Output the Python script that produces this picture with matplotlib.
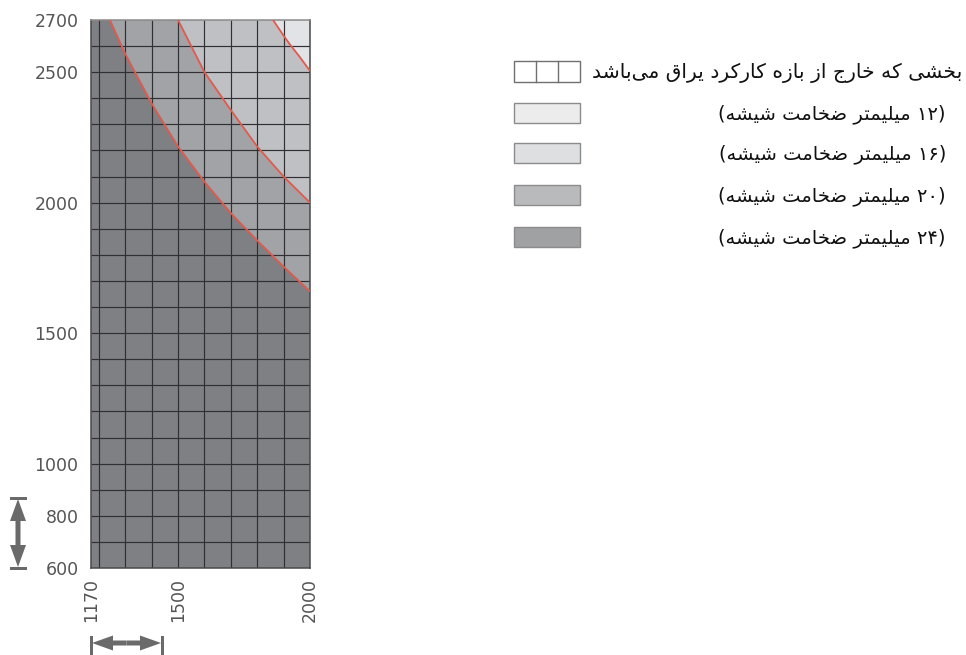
import matplotlib
matplotlib.use("Agg")
import matplotlib.pyplot as plt
from matplotlib.patches import Rectangle, FancyArrow
from matplotlib.transforms import IdentityTransform
from matplotlib import font_manager, ft2font

# ---------------- data ----------------
x_range = [1170, 2000]
y_range = [600, 2700]
x_ticks = [1170, 1500, 2000]
y_ticks = [600, 800, 1000, 1500, 2000, 2500, 2700]
grid_x = [1200, 1300, 1400, 1500, 1600, 1700, 1800, 1900, 2000]
grid_y = [700, 800, 900, 1000, 1100, 1200, 1300, 1400, 1500, 1600, 1700,
          1800, 1900, 2000, 2100, 2200, 2300, 2400, 2500, 2600]

# boundary between 24 mm and 20 mm zones
b24_20_x = [1242, 1300, 1400, 1500, 1600, 1700, 1800, 1900, 2000]
b24_20_y = [2700, 2570, 2380, 2215, 2080, 1960, 1855, 1755, 1660]
# boundary between 20 mm and 16 mm zones
b20_16_x = [1500, 1550, 1600, 1700, 1800, 1900, 2000]
b20_16_y = [2700, 2600, 2500, 2355, 2215, 2100, 2000]
# boundary between 16 mm and 12 mm zones
b16_12_x = [1860, 1900, 1925, 1960, 2000]
b16_12_y = [2700, 2640, 2605, 2560, 2505]

legend_labels = [
    "بخشی که خارج از بازه کارکرد یراق می\u200cباشد",
    "(۱۲ میلیمتر ضخامت شیشه)",
    "(۱۶ میلیمتر ضخامت شیشه)",
    "(۲۰ میلیمتر ضخامت شیشه)",
    "(۲۴ میلیمتر ضخامت شیشه)",
]

zone_colors = {"24": "#7f8084", "20": "#a2a3a7", "16": "#bfc0c4", "12": "#e2e3e6"}
legend_colors = ["#ffffff", "#ececec", "#dedfe0", "#b9babc", "#a0a1a3"]

# ---------------- simple Arabic-script shaping ----------------
FORMS = {
    "\u0627": (0xFE8D, 0xFE8E, None, None),
    "\u0628": (0xFE8F, 0xFE90, 0xFE91, 0xFE92),
    "\u062A": (0xFE95, 0xFE96, 0xFE97, 0xFE98),
    "\u062C": (0xFE9D, 0xFE9E, 0xFE9F, 0xFEA0),
    "\u062E": (0xFEA5, 0xFEA6, 0xFEA7, 0xFEA8),
    "\u062F": (0xFEA9, 0xFEAA, None, None),
    "\u0631": (0xFEAD, 0xFEAE, None, None),
    "\u0632": (0xFEAF, 0xFEB0, None, None),
    "\u0634": (0xFEB5, 0xFEB6, 0xFEB7, 0xFEB8),
    "\u0636": (0xFEBD, 0xFEBE, 0xFEBF, 0xFEC0),
    "\u0642": (0xFED5, 0xFED6, 0xFED7, 0xFED8),
    "\u0644": (0xFEDD, 0xFEDE, 0xFEDF, 0xFEE0),
    "\u0645": (0xFEE1, 0xFEE2, 0xFEE3, 0xFEE4),
    "\u0647": (0xFEE9, 0xFEEA, 0xFEEB, 0xFEEC),
    "\u06A9": (0xFB8E, 0xFB8F, 0xFB90, 0xFB91),
    "\u06CC": (0xFBFC, 0xFBFD, 0xFBFE, 0xFBFF),
}
FALLBACK = {
    "\u06A9": (0xFED9, 0xFEDA, 0xFEDB, 0xFEDC),
    "\u06CC": (0xFEEF, 0xFEF0, 0xFEF3, 0xFEF4),
}
NORMALIZE = {"\u064A": "\u06CC", "\u0643": "\u06A9"}
for i in range(10):
    NORMALIZE[chr(0x0660 + i)] = chr(0x06F0 + i)
MIRROR = {"(": ")", ")": "("}

FONT_FAMILY = "DejaVu Sans"
_font = ft2font.FT2Font(font_manager.findfont(FONT_FAMILY))


def _has(code):
    return _font.get_char_index(code) != 0


for k, forms in FALLBACK.items():
    if not all(_has(c) for c in FORMS[k] if c is not None):
        FORMS[k] = forms


def shape_rtl(text):
    chars = [NORMALIZE.get(c, c) for c in text]
    out = []
    n = len(chars)
    for i, c in enumerate(chars):
        if c not in FORMS:
            out.append(c)
            continue
        prev = chars[i - 1] if i > 0 else None
        nxt = chars[i + 1] if i < n - 1 else None
        jp = prev in FORMS and FORMS[prev][2] is not None
        jn = FORMS[c][2] is not None and nxt in FORMS
        iso, fin, ini, med = FORMS[c]
        code = med if (jp and jn) else fin if jp else ini if jn else iso
        out.append(chr(code))
    out = [c for c in out if c != "\u200c"]
    runs = []
    for c in out:
        d = c.isdigit()
        if runs and runs[-1][0] == d:
            runs[-1][1].append(c)
        else:
            runs.append([d, [c]])
    res = ""
    for d, run in reversed(runs):
        if d:
            res += "".join(run)
        else:
            res += "".join(MIRROR.get(c, c) for c in reversed(run))
    return res


# ---------------- figure ----------------
W, H = 966, 655
fig = plt.figure(figsize=(W / 100, H / 100), dpi=100)
fig.patch.set_facecolor("white")

ax_l, ax_r, ax_t, ax_b = 91, 310, 20, 568
ax = fig.add_axes([ax_l / W, 1 - ax_b / H, (ax_r - ax_l) / W, (ax_b - ax_t) / H])
ax.set_xlim(*x_range)
ax.set_ylim(*y_range)
ax.set_facecolor(zone_colors["24"])

top = y_range[1]
right = x_range[1]
ax.fill(b24_20_x + [right], b24_20_y + [top], color=zone_colors["20"], lw=0, zorder=1)
ax.fill(b20_16_x + [right], b20_16_y + [top], color=zone_colors["16"], lw=0, zorder=1)
ax.fill(b16_12_x + [right], b16_12_y + [top], color=zone_colors["12"], lw=0, zorder=1)

ax.vlines(grid_x, y_range[0], y_range[1], colors="#303033", lw=0.85, zorder=2)
ax.hlines(grid_y, x_range[0], x_range[1], colors="#303033", lw=0.85, zorder=2)

for bx, by in [(b24_20_x, b24_20_y), (b20_16_x, b20_16_y), (b16_12_x, b16_12_y)]:
    ax.plot(bx, by, color="#e25a4c", lw=1.3, zorder=3, solid_capstyle="butt")

ax.set_xticks(x_ticks)
ax.set_xticklabels([str(v) for v in x_ticks], rotation=90, va="top")
ax.set_yticks(y_ticks)
ax.set_yticklabels([str(v) for v in y_ticks])
ax.tick_params(axis="both", length=0, labelsize=12.5, labelcolor="#555555")
ax.tick_params(axis="y", pad=9)
ax.tick_params(axis="x", pad=7)
for s in ax.spines.values():
    s.set_color("#4a4a4a")
    s.set_linewidth(1.1)
ax.spines["top"].set_color("#8a8a8a")


# ---------------- legend (drawn by hand) ----------------
def fx(x):
    return x / W


def fy(y):
    return 1 - y / H


patch_l, patch_r = 514, 580
rows_top = [61, 103, 143, 185, 227]
rows_h = [21, 20, 20, 20, 20]
text_right = [962, 946, 946, 946, 946]
text_size = [14.6, 14.0, 14.0, 14.0, 14.0]
for i, (lab, col) in enumerate(zip(legend_labels, legend_colors)):
    y0 = rows_top[i]
    h = rows_h[i]
    edge = "#707070" if i == 0 else "#8c8c8c"
    fig.patches.append(Rectangle((fx(patch_l), fy(y0 + h)), fx(patch_r - patch_l), h / H,
                                 transform=fig.transFigure, facecolor=col,
                                 edgecolor=edge, lw=1.0))
    if i == 0:
        for cx in [536, 558]:
            fig.lines.append(plt.Line2D([fx(cx), fx(cx)], [fy(y0), fy(y0 + h)],
                                        transform=fig.transFigure, color=edge, lw=1.0))
    fig.text(fx(text_right[i]), fy(y0 + h / 2 + 1), shape_rtl(lab), ha="right", va="center",
             fontsize=text_size[i], color="#111111", family=FONT_FAMILY)

# ---------------- dimension arrows ----------------
arrow_col = "#6a6a6a"
T = IdentityTransform()
# vertical
vx, vtop, vbot = 18, H - 499, H - 567
vmid = (vtop + vbot) / 2
for d in (vtop - vmid, vbot - vmid):
    fig.patches.append(FancyArrow(vx, vmid, 0, d, width=5, head_width=16, head_length=22,
                                  length_includes_head=True, transform=T,
                                  color=arrow_col, lw=0))
for yy in (vtop + 1, vbot - 1):
    fig.patches.append(Rectangle((10, yy - 1.5), 17, 3, transform=T, color=arrow_col, lw=0))
# horizontal
hy, hl, hr = 12, 92, 161
hmid = (hl + hr) / 2
for d in (hl - hmid, hr - hmid):
    fig.patches.append(FancyArrow(hmid, hy, d, 0, width=5, head_width=15, head_length=21,
                                  length_includes_head=True, transform=T,
                                  color=arrow_col, lw=0))
for xx in (hl - 1, hr + 1):
    fig.patches.append(Rectangle((xx - 1.5, 0), 3, 19, transform=T, color=arrow_col, lw=0))

fig.savefig("out.png", dpi=100, facecolor="white")
